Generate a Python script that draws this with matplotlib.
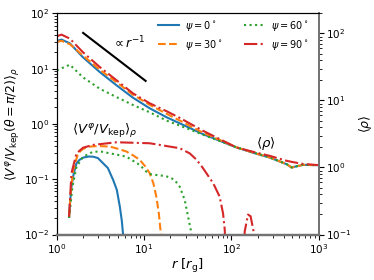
import numpy as np
import matplotlib
matplotlib.use("Agg")
import matplotlib.pyplot as plt

# ---- data ----
labels = [r"$\psi=0^\circ$", r"$\psi=30^\circ$", r"$\psi=60^\circ$", r"$\psi=90^\circ$"]
colors = ["#1f77b4", "#ff7f0e", "#2ca02c", "#d62728"]
styles = ["-", "--", ":", "-."]

# density <rho> (right axis), log10 values
r_rho = [1.0, 1.13, 1.41, 1.98, 3.11, 4.87, 7.42, 11.6, 18.2, 25.7, 47.1, 115, 195, 275, 430, 490, 656, 1000]
logrho_0 = [1.888, 1.909, 1.853, 1.648, 1.423, 1.223, 1.043, 0.883, 0.748, 0.658, 0.499, 0.298, 0.204, 0.148, 0.049, 0.0, 0.039, 0.035]
logrho_30 = [1.873, 1.89, 1.84, 1.673, 1.458, 1.27, 1.088, 0.935, 0.80, 0.70, 0.52, 0.30, 0.206, 0.15, 0.05, 0.0, 0.039, 0.035]
logrho_60 = [1.448, 1.48, 1.534, 1.348, 1.174, 1.048, 0.934, 0.823, 0.699, 0.624, 0.49, 0.30, 0.21, 0.15, 0.05, 0.0, 0.04, 0.035]
logrho_90 = [1.958, 1.983, 1.923, 1.723, 1.498, 1.298, 1.108, 0.958, 0.838, 0.739, 0.549, 0.298, 0.22, 0.174, 0.10, 0.084, 0.054, 0.035]

# <V^phi/V_kep>_rho (left axis), log10 values
r_v0 = [1.38, 1.42, 1.47, 1.56, 1.68, 1.82, 1.99, 2.3, 2.6, 2.95, 3.39, 3.84, 4.42, 4.87, 5.27, 5.55, 5.74, 6.0]
logv_0 = [-1.68, -1.40, -1.136, -0.90, -0.712, -0.65, -0.611, -0.59, -0.593, -0.617, -0.712, -0.797, -1.014, -1.195, -1.497, -1.75, -2.0, -3.0]
r_v30 = [1.38, 1.45, 1.54, 1.75, 2.0, 2.39, 3.0, 4.05, 5.0, 6.28, 7.5, 8.92, 10.2, 11.6, 12.8, 13.8, 14.7, 15.4, 16.5]
logv_30 = [-1.68, -1.20, -0.834, -0.531, -0.45, -0.41, -0.40, -0.41, -0.45, -0.50, -0.57, -0.651, -0.76, -0.893, -1.08, -1.317, -1.60, -1.92, -3.0]
r_v60 = [1.38, 1.51, 1.68, 2.0, 2.6, 3.2, 4.05, 5.0, 6.28, 8.92, 10.6, 12.0, 13.8, 17.4, 20.0, 22.5, 25.6, 29.2, 31.9, 34.6, 36.5]
logv_60 = [-1.70, -1.136, -0.774, -0.593, -0.503, -0.50, -0.532, -0.56, -0.593, -0.743, -0.864, -0.91, -0.924, -0.942, -0.97, -1.02, -1.136, -1.376, -1.678, -1.95, -3.0]
r_v90 = [1.38, 1.47, 1.68, 2.0, 2.6, 4.83, 11.6, 25.6, 33.4, 40.0, 47.5, 62.1, 73.5, 80.3, 84, 88, 138, 142, 155, 166, 181, 186]
logv_90 = [-1.68, -0.893, -0.532, -0.43, -0.38, -0.332, -0.35, -0.44, -0.534, -0.65, -0.805, -1.077, -1.318, -1.62, -1.92, -3.0, -3.0, -1.95, -1.64, -1.67, -1.97, -3.0]

# r^-1 guide line (right axis)
r_guide = [2.0, 10.4]
rho_guide = [102.0, 19.6]

rho_sets = [logrho_0, logrho_30, logrho_60, logrho_90]
v_sets = [(r_v0, logv_0), (r_v30, logv_30), (r_v60, logv_60), (r_v90, logv_90)]

plt.rcParams['font.family'] = ['DejaVu Sans']
fig = plt.figure(figsize=(3.74, 2.80), dpi=100)
ax = fig.add_axes([0.152, 0.1625, 0.700, 0.790])
ax2 = ax.twinx()

for (rv, lv), c, ls in zip(v_sets, colors, styles):
    ax.plot(rv, 10 ** np.array(lv), color=c, ls=ls, lw=1.5)

for lr, c, ls, lab in zip(rho_sets, colors, styles, labels):
    ax2.plot(r_rho, 10 ** np.array(lr), color=c, ls=ls, lw=1.5, label=lab)

ax2.plot(r_guide, rho_guide, color="black", lw=1.5)

ax.set_xscale("log")
ax.set_yscale("log")
ax2.set_yscale("log")
ax.set_xlim(1, 1000)
ax.set_ylim(1e-2, 1e2)
ax2.set_ylim(1e-1, 200)

ax.tick_params(labelsize=7.5, pad=2)
ax2.tick_params(labelsize=7.5, pad=2)
ax.set_xlabel(r"$r\ [r_{\rm g}]$", fontsize=9.5, labelpad=1)
ax.set_ylabel(r"$\langle V^\varphi/V_{\rm kep}(\theta=\pi/2)\rangle_\rho$", fontsize=9, labelpad=1)
ax2.set_ylabel(r"$\langle\rho\rangle$", fontsize=9, labelpad=4)

for a in (ax, ax2):
    a.spines['bottom'].set_color('0.45')
    a.spines['bottom'].set_linewidth(1.6)
    a.spines['right'].set_color('0.45')
    a.spines['right'].set_linewidth(1.3)

ax.text(3.55, 0.74, r"$\langle V^\varphi/V_{\rm kep}\rangle_\rho$", fontsize=9.5,
        ha="center", va="center")
ax2.text(6.6, 71, r"$\propto r^{-1}$", fontsize=9, ha="center", va="center")
ax2.text(250, 2.3, r"$\langle\rho\rangle$", fontsize=9.5, ha="center", va="center")

ax2.legend(ncol=2, frameon=False, fontsize=7, loc="upper right",
           bbox_to_anchor=(0.962, 0.975), borderaxespad=0, borderpad=0,
           handlelength=2.2, handletextpad=0.6, columnspacing=2.2,
           labelspacing=0.5)

fig.savefig("out.png", dpi=100)
